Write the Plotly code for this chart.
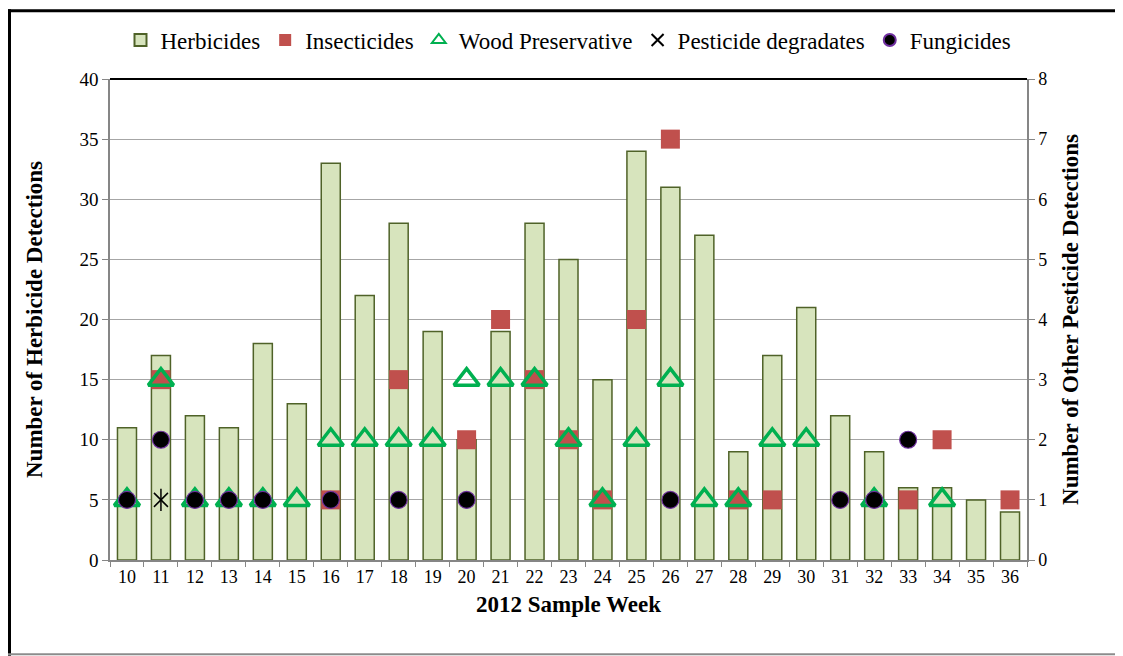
import plotly.graph_objects as go

weeks = [str(w) for w in range(10, 37)]
herbicides = [11, 17, 12, 11, 18, 13, 33, 22, 28, 19, 10, 19, 28, 25, 15, 34, 31, 27, 9, 17, 21, 12, 9, 6, 6, 5, 4]

insect_weeks = ["11", "16", "18", "20", "21", "22", "23", "24", "25", "26", "28", "29", "33", "34", "36"]
insecticides = [3, 1, 3, 2, 4, 3, 2, 1, 4, 7, 1, 1, 1, 2, 1]

wood_weeks = ["10", "11", "12", "13", "14", "15", "16", "17", "18", "19", "20", "21", "22", "23",
              "24", "25", "26", "27", "28", "29", "30", "32", "34"]
wood = [1, 3, 1, 1, 1, 1, 2, 2, 2, 2, 3, 3, 3, 2, 1, 2, 3, 1, 1, 2, 2, 1, 1]

degr_weeks = ["11"]
degradates = [1]

fung_weeks = ["10", "11", "12", "13", "14", "16", "18", "20", "26", "31", "32", "33"]
fungicides = [1, 2, 1, 1, 1, 1, 1, 1, 1, 1, 1, 2]

FONT = "Liberation Serif, Times New Roman, serif"

fig = go.Figure()
fig.add_trace(go.Bar(x=weeks, y=herbicides, name="Herbicides",
                     marker=dict(color="#D7E4BD", line=dict(color="#4F6228", width=1.5)),
                     yaxis="y"))
fig.add_trace(go.Scatter(x=insect_weeks, y=insecticides, name="Insecticides", mode="markers",
                         marker=dict(symbol="square", size=19, color="#C0504D"), yaxis="y2"))
fig.add_trace(go.Scatter(x=wood_weeks, y=wood, name="Wood Preservative", mode="markers",
                         marker=dict(symbol="triangle-up-open", size=22, color="#00B050",
                                     line=dict(width=3.5, color="#00B050")), yaxis="y2"))
fig.add_trace(go.Scatter(x=degr_weeks, y=degradates, name="Pesticide degradates", mode="markers",
                         marker=dict(symbol="x-thin-open", size=14, color="black",
                                     line=dict(width=1.5, color="black")), yaxis="y2"))
fig.add_trace(go.Scatter(x=degr_weeks, y=degradates, name="Pesticide degradates", mode="markers",
                         showlegend=False,
                         marker=dict(symbol="line-ns-open", size=16, color="black",
                                     line=dict(width=1.5, color="black")), yaxis="y2"))
fig.add_trace(go.Scatter(x=fung_weeks, y=fungicides, name="Fungicides", mode="markers",
                         marker=dict(symbol="circle", size=17, color="black",
                                     line=dict(width=1.2, color="#7030A0")), yaxis="y2"))

W, H = 1115, 648
L, R, T, B = 102, 96, 70, 96
pw, ph = W - L - R, H - T - B


def px(xf):
    return (xf - L) / pw


def py(yf):
    return (H - B - yf) / ph


fig.update_layout(
    width=W, height=H,
    margin=dict(l=L, r=R, t=T, b=B),
    paper_bgcolor="white", plot_bgcolor="white",
    font=dict(family=FONT, color="black", size=18),
    bargap=0.44,
    showlegend=True,
    legend=dict(orientation="h", x=0.5, xanchor="center", y=py(32), yanchor="middle",
                font=dict(size=23, family=FONT, color="black"), itemsizing="constant",
                itemwidth=30, tracegroupgap=0, bgcolor="rgba(0,0,0,0)"),
    xaxis=dict(type="category", range=[-0.5, len(weeks) - 0.5], tickson="boundaries",
               ticks="outside", ticklen=5,
               tickcolor="#868686", showline=True, linecolor="#868686", linewidth=1.5,
               tickfont=dict(size=18, family=FONT),
               title=dict(text="<b>2012 Sample Week</b>", font=dict(size=23, family=FONT), standoff=10)),
    yaxis=dict(range=[0, 40], dtick=5, showgrid=True, gridcolor="#A6A6A6", gridwidth=1.3,
               showline=True, linecolor="#868686", linewidth=1.5, ticks="outside", ticklen=6,
               tickcolor="#868686", tickfont=dict(size=19, family=FONT), zeroline=False,
               title=dict(text="<b>Number of Herbicide Detections</b>", font=dict(size=23, family=FONT),
                          standoff=30)),
    yaxis2=dict(range=[0, 8], dtick=1, overlaying="y", side="right", showgrid=False,
                showline=True, linecolor="#868686", linewidth=1.5, ticks="outside", ticklen=6,
                tickcolor="#868686", tickfont=dict(size=18, family=FONT), zeroline=False,
                title=dict(text="<b>Number of Other Pesticide Detections</b>",
                           font=dict(size=23, family=FONT), standoff=16)),
    shapes=[
        dict(type="line", xref="paper", yref="paper", x0=0, x1=1, y0=1, y1=1,
             line=dict(color="black", width=2)),
        dict(type="line", xref="paper", yref="paper", x0=px(0), x1=px(W),
             y0=py(1.5), y1=py(1.5), line=dict(color="black", width=3)),
        dict(type="line", xref="paper", yref="paper", x0=px(1.5), x1=px(1.5),
             y0=py(0), y1=py(H), line=dict(color="black", width=3)),
        dict(type="line", xref="paper", yref="paper", x0=px(0), x1=px(W),
             y0=py(646.5), y1=py(646.5), line=dict(color="#8C8C8C", width=2)),
    ],
)

fig.write_html("out.html")
